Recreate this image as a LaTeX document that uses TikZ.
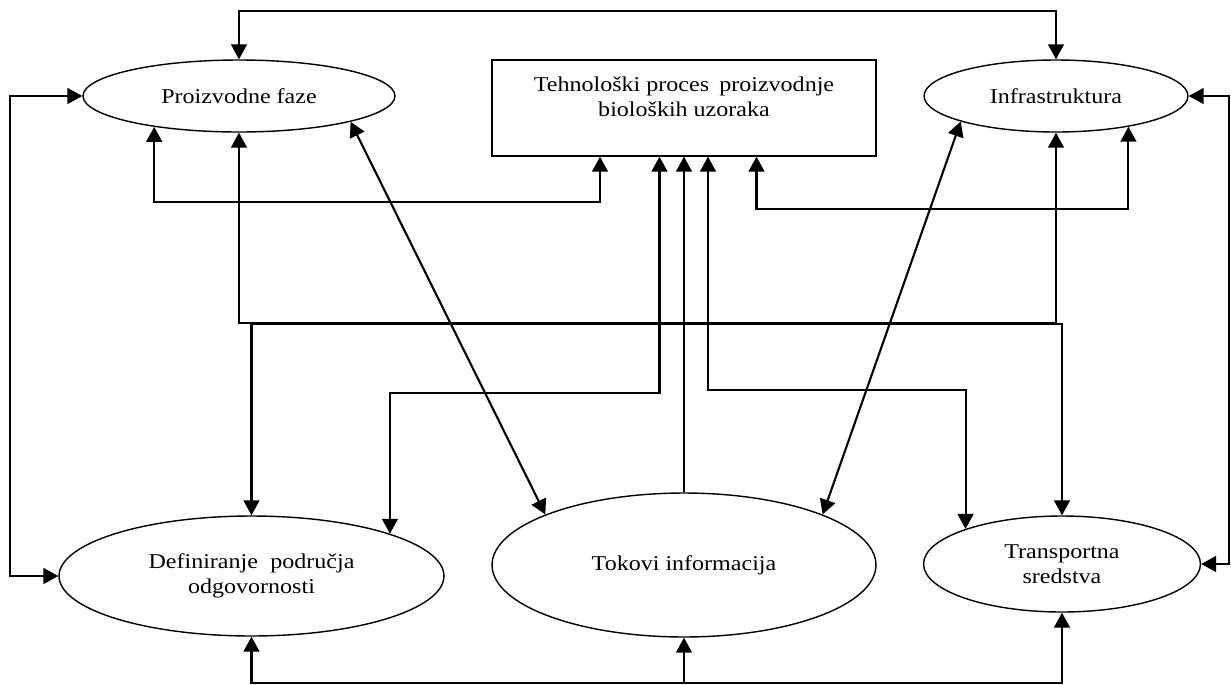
\documentclass[tikz,border=0pt]{standalone}
\usepackage{fontspec}
\setmainfont{Liberation Serif}[FakeStretch=1.14]
\usetikzlibrary{arrows.meta,shapes.geometric,calc}

\begin{document}
\begin{tikzpicture}[x=0.02cm,y=-0.02cm,
  font=\fontsize{12}{14.5}\selectfont,
  >={Triangle[length=8.5pt,width=9pt]},
  faza/.style={draw,ellipse,line width=0.8pt,inner sep=0pt,align=center},
  proces/.style={draw,rectangle,line width=0.8pt,inner sep=0pt},
  veza/.style={line width=1.2pt,<->},
  jednosmjerna/.style={line width=1.2pt,->}]
\useasboundingbox (0,0) rectangle (1231,684);
\node[faza,minimum width=6.24cm,minimum height=1.44cm] (prz) at (239,96) {Proizvodne faze};
\node[proces,minimum width=7.68cm,minimum height=1.92cm] (thp) at (684,108) {\begin{tabular}{@{}c@{}}Tehnološki proces\hspace{0.2em} proizvodnje\\bioloških uzoraka\\[10.5pt]\end{tabular}};
\node[faza,minimum width=5.28cm,minimum height=1.44cm] (inf) at (1056,96) {Infrastruktura};
\node[faza,minimum width=7.7cm,minimum height=2.4cm] (odg) at (251.5,576) {Definiranje\hspace{0.3em} područja\\odgovornosti};
\node[faza,minimum width=7.68cm,minimum height=2.88cm] (tok) at (684,565) {Tokovi informacija};
\node[faza,minimum width=5.54cm,minimum height=1.92cm] (trs) at (1062,564) {Transportna\\sredstva};
\draw[veza] (prz.north) -- ++(0,-48) -| (inf.north);
\draw[veza] (prz.west) -- ++(-72,0) |- (odg.west);
\draw[veza] (inf.east) -- ++(40,0) |- (trs.east);
\draw[veza] (prz.200) -- ++(0,75) -| ($(thp.south)+(-84,0)$);
\draw[veza] ($(thp.south)+(72.5,0)$) -- ++(0,52.3) -| (inf.337);
\draw[veza] (prz.south) -- ++(0,190) -| (inf.south);
\draw[veza] (odg.north) -- ++(0,-191) -| (trs.north);
\draw[veza] ($(thp.south)+(-24.5,0)$) -- ++(0,236.7) -| (odg.17.5);
\draw[jednosmjerna] (tok.north) -- (thp.south);
\draw[veza] ($(thp.south)+(24,0)$) -- ++(0,233.3) -| (trs.160);
\draw[veza] (prz.347) -- (tok.160);
\draw[veza] (inf.195) -- (tok.20);
\draw[veza] (odg.south) -- ++(0,46.7) -| (trs.south);
\draw[jednosmjerna] (tok.south) ++(0,45.7) -- (tok.south);
\end{tikzpicture}
\end{document}
